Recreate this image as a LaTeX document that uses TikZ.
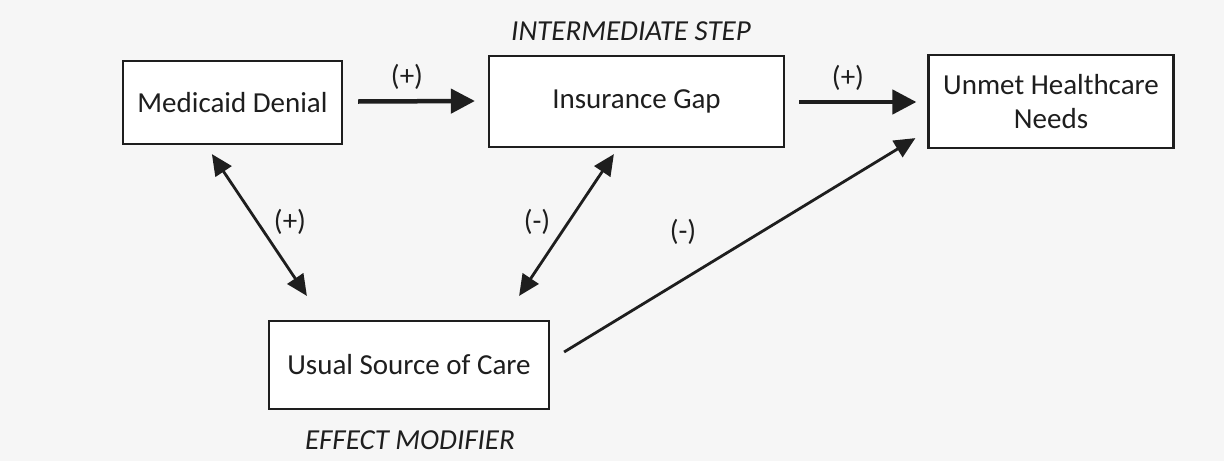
\documentclass[tikz,border=0pt]{standalone}
\usepackage{fontspec}
\setmainfont{Carlito}
\usetikzlibrary{arrows.meta,calc}
\definecolor{paper}{HTML}{F6F6F6}
\definecolor{ink}{HTML}{1E1E1E}
\tikzset{
  box/.style={draw=ink,line width=2.2pt,fill=white,inner sep=0pt,align=center,text=ink,font=\fontsize{29}{34}\selectfont},
  lbl/.style={text=ink,font=\fontsize{29}{34}\selectfont,inner sep=0pt},
  captext/.style={text=ink,font=\fontsize{29}{34}\selectfont\itshape,inner sep=0pt},
  thickarrow/.style={draw=ink,line width=4.5pt,-{Triangle[length=24pt,width=24pt]}},
  thinarrow/.style={draw=ink,line width=2.8pt,-{Triangle[length=21pt,width=19pt]}},
  botharrow/.style={draw=ink,line width=2.8pt,{Triangle[length=21pt,width=19pt]}-{Triangle[length=21pt,width=19pt]}}
}
\begin{document}
\begin{tikzpicture}[x=1pt,y=-1pt]
\fill[paper] (0,0) rectangle (1224,461);
\useasboundingbox (0,0) rectangle (1224,461);
\node[box,minimum width=219pt,minimum height=83pt] (md) at (232.5,102.5) {Medicaid Denial};
\node[box,minimum width=295pt,minimum height=91pt] (ig) at (636.5,101.5) {Insurance Gap};
\node[box,minimum width=245pt,minimum height=93pt] (un) at (1051,101.5) {Unmet Healthcare\\Needs};
\node[box,minimum width=280pt,minimum height=88pt] (us) at (409,365) {Usual Source of Care};
\node[captext] (inter) at (631,31) {INTERMEDIATE STEP};
\node[captext] (effmod) at (410,440) {EFFECT MODIFIER};
\draw[thickarrow] ($(md.east)+(15,-1)$) -- ($(ig.west)+(-13,-0.5)$);
\draw[thickarrow] ($(ig.east)+(14,0.5)$) -- ($(un.west)+(-11,0.5)$);
\draw[botharrow] ($(md.south west)+(90,9)$) -- ($(us.north west)+(39,-24)$);
\draw[botharrow] ($(ig.south west)+(126,6)$) -- ($(us.north east)+(-31,-24)$);
\draw[thinarrow] ($(us.east)+(14,-13)$) -- ($(un.south west)+(-12,-11)$);
\node[lbl] (l1) at (407,77) {(+)};
\node[lbl] (l2) at (848,78) {(+)};
\node[lbl] (l3) at (290,222) {(+)};
\node[lbl] (l4) at (537,222) {(-)};
\node[lbl] (l5) at (683,232) {(-)};
\end{tikzpicture}
\end{document}
